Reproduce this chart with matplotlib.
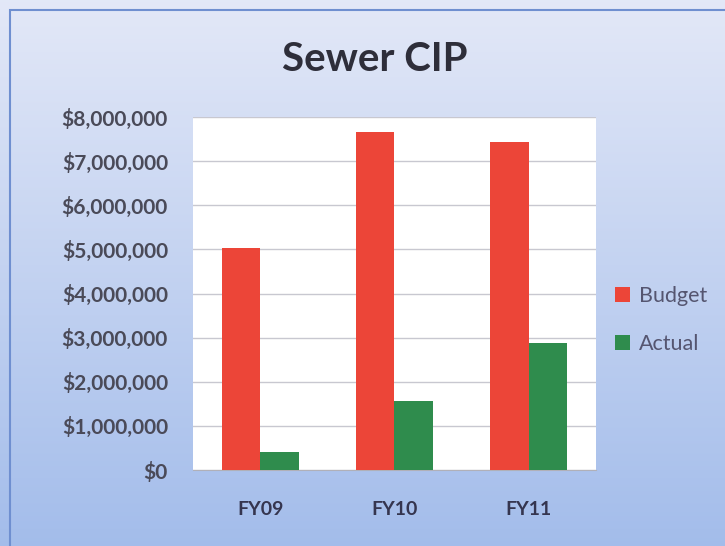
import numpy as np
import matplotlib
matplotlib.use("Agg")
import matplotlib.pyplot as plt
from matplotlib.patches import Rectangle
from matplotlib.ticker import FuncFormatter

# values
years = ["FY09", "FY10", "FY11"]
budget = [5030000, 7660000, 7440000]
actual = [410000, 1560000, 2880000]
y_ticks = [0, 1000000, 2000000, 3000000, 4000000, 5000000, 6000000, 7000000, 8000000]

plt.rcParams['font.family'] = ['Lato', 'DejaVu Sans']

fig = plt.figure(figsize=(7.25, 5.46), dpi=100)

# gradient background over the whole figure
bg = fig.add_axes([0, 0, 1, 1], zorder=-10)
grad = np.linspace(0, 1, 256).reshape(-1, 1)
top = np.array([0.89, 0.91, 0.97])
bottom = np.array([0.64, 0.74, 0.92])
img = top + (bottom - top) * grad[:, :, None]
bg.imshow(img, aspect='auto', extent=[0, 1, 0, 1])
bg.set_axis_off()
fig.patches.append(Rectangle((10 / 725, -0.1), 1.0, 1 - 10 / 546 + 0.1,
                             transform=fig.transFigure, fill=False,
                             edgecolor='#6f8fd0', linewidth=1.5))

ax = fig.add_axes([193 / 725, 1 - 470 / 546, 403 / 725, 353 / 546])
ax.set_facecolor('white')

x = np.arange(len(years))
w = 0.287
ax.bar(x - w / 2, budget, width=w, color='#ec4538', label='Budget', zorder=3)
ax.bar(x + w / 2, actual, width=w, color='#2f8c4d', label='Actual', zorder=3)

ax.set_xlim(-0.5, 2.5)
ax.set_ylim(0, 8000000)
ax.set_yticks(y_ticks)
ax.yaxis.set_major_formatter(FuncFormatter(lambda v, p: "${:,.0f}".format(v)))
ax.set_xticks(x)
ax.set_xticklabels(years)
ax.grid(axis='y', color='#c8c8d0', linewidth=1, zorder=0)
ax.tick_params(axis='both', length=0)
ax.tick_params(axis='y', pad=18, labelsize=15, labelcolor='#4a4a58')
ax.tick_params(axis='x', pad=22, labelsize=14, labelcolor='#35354f')
for lbl in ax.get_yticklabels() + ax.get_xticklabels():
    lbl.set_fontweight('bold')
for s in ['left', 'right', 'top']:
    ax.spines[s].set_visible(False)
ax.spines['bottom'].set_color('#b0b0b8')

fig.text(375 / 725, 1 - 71 / 546, "Sewer CIP", ha='center', va='baseline',
         fontsize=29, fontweight='bold', color='#2e2e3a')

ax.legend(loc='center left', bbox_to_anchor=(615 / 725, 1 - 320 / 546),
          bbox_transform=fig.transFigure, frameon=False, fontsize=15.5,
          borderpad=0, borderaxespad=0,
          handlelength=0.7, handleheight=0.7, handletextpad=0.4,
          labelspacing=1.3, labelcolor='#555570')

fig.savefig("out.png", dpi=100)
